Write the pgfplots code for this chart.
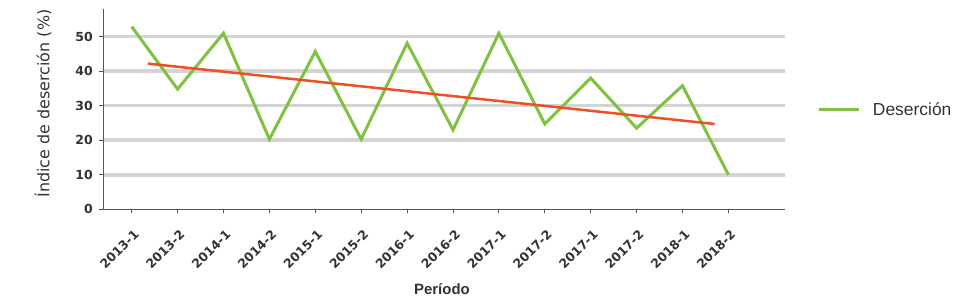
\documentclass[border=0pt]{standalone}
\usepackage{fontspec}
\setmainfont{DejaVu Sans}
\newfontfamily\libsans{Liberation Sans}
\usepackage{pgfplots}
\pgfplotsset{compat=1.18}
\definecolor{desgreen}{HTML}{7FC241}
\definecolor{trendred}{HTML}{F04E23}
\definecolor{gridgray}{HTML}{D4D4D4}
\definecolor{axisgray}{HTML}{555555}
\definecolor{txt}{HTML}{333333}
\begin{document}
\begin{tikzpicture}
\useasboundingbox (0,0) rectangle (968bp,302bp);
\begin{axis}[
  at={(103bp,92.7bp)}, anchor=south west,
  scale only axis, width=682bp, height=200.3bp,
  xmin=-0.625, xmax=14.233, ymin=0, ymax=58,
  axis lines*=left,
  axis line style={color=axisgray, line width=0.9bp},
  xtick={0,...,13},
  xticklabels={2013-1,2013-2,2014-1,2014-2,2015-1,2015-2,2016-1,2016-2,2017-1,2017-2,2017-1,2017-2,2018-1,2018-2},
  ytick={10,20,...,50},
  extra y ticks={0}, extra y tick style={grid=none},
  ymajorgrids,
  grid style={color=gridgray, line width=3.5bp},
  tick style={color=axisgray, line width=0.9bp},
  xtick align=outside, ytick align=outside,
  major tick length=4bp,
  /pgf/number format/assume math mode=true,
  xticklabel style={font=\fontsize{12.5}{13}\selectfont\bfseries, text=txt, rotate=45, anchor=north east, inner sep=0pt, xshift=-10bp, yshift=-12bp},
  yticklabel style={font=\fontsize{12.5}{13}\selectfont\bfseries, text=txt, anchor=east, inner sep=0pt, xshift=-6bp},
  ylabel={Índice de deserción (\%)},
  ylabel style={at={(axis description cs:-0.088,0.528)}, anchor=center, font=\fontsize{16}{18}\selectfont, text=txt},
  xlabel={Período},
  xlabel style={at={(axis description cs:0.497,-0.398)}, anchor=center, font=\libsans\fontsize{15}{17}\selectfont\bfseries, text=txt},
  legend style={at={(1.048,0.496)}, anchor=west, draw=none, fill=none, inner sep=0pt,
    nodes={inner sep=0pt, font=\libsans\fontsize{17.5}{19}\selectfont, text=txt}},
  legend image code/.code={\draw[#1] (0bp,0bp) -- (40bp,0bp); \path (52bp,0bp);},
  clip=false,
]
\addplot[desgreen, line width=3bp] coordinates {
  (0,52.9) (1,34.8) (2,51.0) (3,20.3) (4,45.7) (5,20.3) (6,48.1)
  (7,23.0) (8,51.0) (9,24.7) (10,38.0) (11,23.5) (12,35.8) (13,10.0)
};
\addlegendentry{Deserción}
\addplot[trendred, line width=2.5bp, forget plot] coordinates {
  (0.35,42.2) (12.70,24.7)
};
\end{axis}
\end{tikzpicture}
\end{document}
